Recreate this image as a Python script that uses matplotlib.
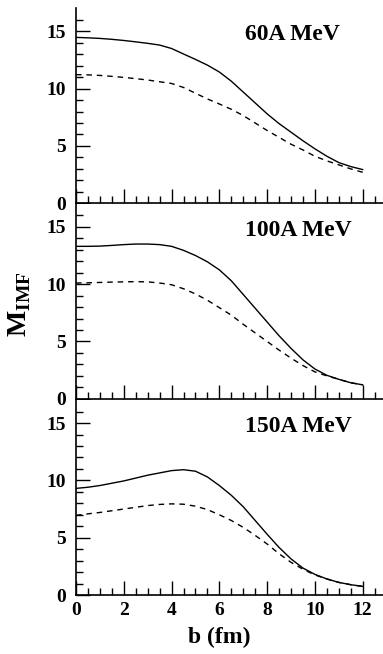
import numpy as np
import matplotlib.pyplot as plt

plt.rcParams['font.family'] = 'Liberation Serif'
plt.rcParams['font.weight'] = 'bold'
plt.rcParams['mathtext.fontset'] = 'custom'
plt.rcParams['mathtext.bf'] = 'Liberation Serif:bold'
plt.rcParams['mathtext.rm'] = 'Liberation Serif:bold'

# impact parameter grid (fm)
b = [0, 0.5, 1, 1.5, 2, 2.5, 3, 3.5, 4, 4.5, 5, 5.5, 6,
     6.5, 7, 7.5, 8, 8.5, 9, 9.5, 10, 10.5, 11, 11.5, 12]

# IMF multiplicity, solid and dashed curves for each beam energy
m60_solid = [14.47, 14.43, 14.38, 14.3, 14.2, 14.08, 13.95, 13.8, 13.5, 13.02, 12.55, 12.05, 11.45,
             10.65, 9.7, 8.75, 7.8, 6.95, 6.2, 5.45, 4.75, 4.1, 3.55, 3.2, 2.94]
m60_dash = [11.22, 11.2, 11.15, 11.07, 10.98, 10.87, 10.75, 10.6, 10.45, 10.1, 9.6, 9.1, 8.66,
            8.2, 7.65, 7.0, 6.35, 5.75, 5.15, 4.65, 4.1, 3.7, 3.35, 3.0, 2.7]

m100_solid = [13.3, 13.3, 13.32, 13.38, 13.45, 13.5, 13.5, 13.45, 13.3, 12.95, 12.5, 11.95, 11.25,
              10.3, 9.1, 7.9, 6.7, 5.5, 4.4, 3.4, 2.6, 2.05, 1.7, 1.4, 1.22]
m100_dash = [10.1, 10.12, 10.15, 10.18, 10.2, 10.22, 10.2, 10.1, 9.95, 9.6, 9.15, 8.6, 7.95,
             7.3, 6.5, 5.75, 5.0, 4.25, 3.55, 2.9, 2.35, 2.0, 1.7, 1.4, 1.22]

m150_solid = [9.3, 9.4, 9.55, 9.75, 9.95, 10.2, 10.45, 10.65, 10.85, 10.93, 10.8, 10.3, 9.55,
              8.7, 7.7, 6.5, 5.3, 4.15, 3.15, 2.35, 1.8, 1.4, 1.1, 0.9, 0.75]
m150_dash = [6.95, 7.08, 7.2, 7.35, 7.5, 7.65, 7.8, 7.9, 7.95, 7.92, 7.75, 7.45, 7.0,
             6.5, 5.9, 5.2, 4.45, 3.6, 2.85, 2.25, 1.75, 1.4, 1.1, 0.9, 0.75]

labels = ['60A MeV', '100A MeV', '150A MeV']
solids = [m60_solid, m100_solid, m150_solid]
dashes = [m60_dash, m100_dash, m150_dash]

fig = plt.figure(figsize=(3.83, 6.54), dpi=100)

left, width = 0.1984, 0.8016
h = 0.298
bottoms = [0.0902 + 2 * h + 0.003, 0.0902 + h + 0.002, 0.0902]
xmax = 12.85

for i in range(3):
    ax = fig.add_axes([left, bottoms[i], width, h])
    ax.plot(b, solids[i], color='black', lw=1.0)
    ax.plot(b, dashes[i], color='black', lw=1.0, ls=(0, (4, 3.5)))
    ax.set_xlim(0, xmax)
    ax.set_ylim(0, 17)
    for s in ['top', 'right']:
        ax.spines[s].set_visible(False)
    ax.spines['left'].set_linewidth(1.2)
    ax.spines['bottom'].set_linewidth(1.2)
    ax.set_xticks(np.arange(0, 13, 2))
    ax.set_xticks(np.arange(0, 13, 0.5), minor=True)
    ax.set_yticks([0, 5, 10, 15])
    ax.set_yticks(np.arange(0, 17, 1), minor=True)
    ax.tick_params(which='major', direction='in', length=10, width=1.0,
                   labelsize=14, pad=5)
    ax.tick_params(which='minor', direction='in', length=5, width=1.0)
    ax.tick_params(axis='y', which='major', pad=7)
    if i < 2:
        ax.tick_params(axis='x', labelbottom=False)
    ax.text(0.55, 0.865, labels[i], transform=ax.transAxes, fontsize=17,
            fontweight='bold', ha='left', va='center')
    if i == 2:
        ax.set_xlabel('b (fm)', fontsize=17, fontweight='bold')
        # centre the axis title under the 0-12 fm range
        ax.xaxis.set_label_coords(6 / xmax, -0.22, transform=ax.transAxes)
        ax.xaxis.label.set_va('center')

fig.text(0.052, 0.534, r'$\mathbf{M}_{\mathbf{IMF}}$', rotation=90,
         fontsize=20, ha='center', va='center')

fig.savefig('out.png', dpi=100)
